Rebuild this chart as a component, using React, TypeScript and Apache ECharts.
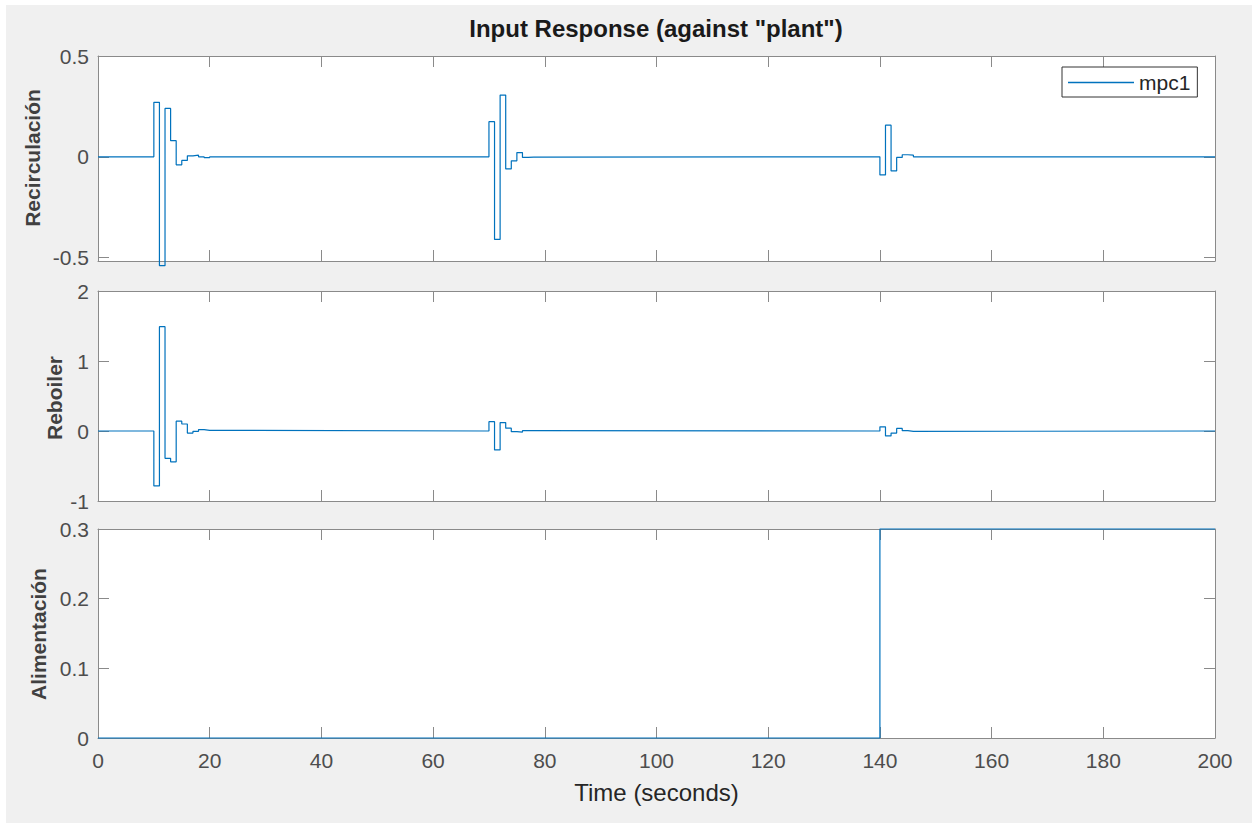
import React, { useEffect, useRef } from "react";
import * as echarts from "echarts";

// ---- Data (time in seconds, value held until next point: zero-order hold) ----
const recirculacion: [number, number][] = [
  [0, 0], [10, 0.27], [11, -0.54], [12, 0.24], [13, 0.08], [14, -0.04], [15, -0.018],
  [16, 0.005], [17, 0.008], [18, 0], [19, -0.004], [20, 0],
  [70, 0.174], [71, -0.41], [72, 0.306], [73, -0.06], [74, -0.02], [75, 0.021],
  [76, -0.003], [77, -0.002], [78, 0],
  [140, -0.09], [141, 0.157], [142, -0.07], [143, -0.003], [144, 0.01], [145, 0.008], [146, 0],
  [200, 0],
];
const reboiler: [number, number][] = [
  [0, 0], [10, -0.785], [11, 1.49], [12, -0.39], [13, -0.44], [14, 0.14], [15, 0.1],
  [16, -0.03], [17, -0.005], [18, 0.02], [19, 0.01], [20, 0],
  [70, 0.133], [71, -0.27], [72, 0.12], [73, 0.04], [74, -0.01], [75, -0.015], [76, 0.005], [77, 0],
  [140, 0.06], [141, -0.07], [142, -0.03], [143, 0.037], [144, 0.005], [145, -0.005], [146, 0],
  [200, 0],
];
const alimentacion: [number, number][] = [
  [0, 0], [140, 0.3], [200, 0.3],
];
const seriesName = "mpc1";
const yLabels = ["Recirculación", "Reboiler", "Alimentación"];
const recircTicks = [-0.5, 0, 0.5];
const titleText = 'Input Response (against "plant")';
const xLabel = "Time (seconds)";

const FONT = "'Liberation Sans', Arial, Helvetica, sans-serif";
const AXIS = "#8a8a8a";
const LABEL = "#4d4d4d";
const LINE = "#0072BD";

export default function App() {
  const ref = useRef<HTMLDivElement>(null);
  useEffect(() => {
    document.body.style.margin = "0";
    const chart = echarts.init(ref.current!, null, { renderer: "svg" });
    const L = 98, W = 1117;
    const grids = [
      { top: 56, height: 205 },
      { top: 291, height: 210 },
      { top: 529, height: 209 },
    ];
    const yRanges = [
      { min: -0.517, max: 0.5 },
      { min: -1, max: 2, interval: 1 },
      { min: 0, max: 0.3, interval: 0.1 },
    ];
    const tick = { show: true, inside: true, length: 11, lineStyle: { color: AXIS, width: 1 } };
    const xAxes: any[] = [];
    const yAxes: any[] = [];
    grids.forEach((g, i) => {
      const base = {
        type: "value", gridIndex: i, min: 0, max: 200, interval: 20,
        axisLine: { show: true, onZero: false, lineStyle: { color: AXIS, width: 1 } },
        axisTick: tick, splitLine: { show: false },
      };
      xAxes.push({
        ...base, position: "bottom",
        axisLabel: { show: i === 2, color: LABEL, fontSize: 21, fontFamily: FONT, margin: 12 },
        name: i === 2 ? xLabel : "", nameLocation: "middle", nameGap: 42,
        nameTextStyle: { color: "#262626", fontSize: 24, fontFamily: FONT },
      });
      xAxes.push({ ...base, position: "top", axisLabel: { show: false } });
      const yr: any = yRanges[i];
      const yBase: any = {
        type: "value", gridIndex: i, min: yr.min, max: yr.max,
        axisLine: { show: true, onZero: false, lineStyle: { color: AXIS, width: 1 } },
        splitLine: { show: false },
      };
      if (yr.interval) yBase.interval = yr.interval;
      const customTick = i === 0 ? { customValues: recircTicks } : {};
      yAxes.push({
        ...yBase, position: "left",
        axisTick: { ...tick, ...customTick },
        axisLabel: {
          show: true, color: LABEL, fontSize: 21, fontFamily: FONT, margin: 9,
          ...customTick,
          formatter: (v: number) => String(Math.round(v * 1000) / 1000),
        },
      });
      yAxes.push({
        ...yBase, position: "right",
        axisTick: { ...tick, ...customTick },
        axisLabel: { show: false },
      });
    });
    const datasets = [recirculacion, reboiler, alimentacion];
    const series = datasets.map((d, i) => ({
      type: "line", name: seriesName, step: "end",
      xAxisIndex: i * 2, yAxisIndex: i * 2,
      data: d, symbol: "none", clip: false,
      lineStyle: { color: LINE, width: 1.2 },
      itemStyle: { color: LINE },
    }));
    const yLabelPos = [
      { x: 32, y: 158 },
      { x: 54, y: 398 },
      { x: 38, y: 634 },
    ];
    chart.setOption({
      animation: false,
      backgroundColor: "#f0f0f0",
      grid: grids.map((g) => ({
        left: L, width: W, top: g.top, height: g.height,
        show: true, backgroundColor: "#ffffff", borderWidth: 0,
      })),
      xAxis: xAxes,
      yAxis: yAxes,
      series,
      legend: {
        data: [{ name: seriesName, icon: "rect" }], left: 1062, top: 67,
        padding: [5, 7, 4, 6], itemWidth: 66, itemHeight: 1.5, itemGap: 6,
        backgroundColor: "#ffffff", borderColor: "#333333", borderWidth: 1, borderRadius: 0,
        textStyle: { color: "#262626", fontSize: 21, fontFamily: FONT },
        itemStyle: { color: LINE },
        selectedMode: false,
      },
      graphic: [
        { type: "rect", left: 0, top: 0, shape: { width: 1253, height: 5 }, style: { fill: "#ffffff" }, silent: true },
        { type: "rect", left: 0, top: 0, shape: { width: 6, height: 823 }, style: { fill: "#ffffff" }, silent: true },
        { type: "rect", left: 1252, top: 0, shape: { width: 1, height: 823 }, style: { fill: "#ffffff" }, silent: true },
        {
          type: "text", x: 656, y: 28,
          style: { text: titleText, font: `bold 24px ${FONT}`, fill: "#1a1a1a", textAlign: "center", textVerticalAlign: "middle" },
        },
        ...yLabels.map((t, i) => ({
          type: "text", x: yLabelPos[i].x, y: yLabelPos[i].y, rotation: Math.PI / 2,
          style: { text: t, font: `bold 21px ${FONT}`, fill: "#404040", textAlign: "center", textVerticalAlign: "middle" },
        })),
      ],
    });
    return () => chart.dispose();
  }, []);
  return <div ref={ref} style={{ width: 1253, height: 823 }} />;
}
